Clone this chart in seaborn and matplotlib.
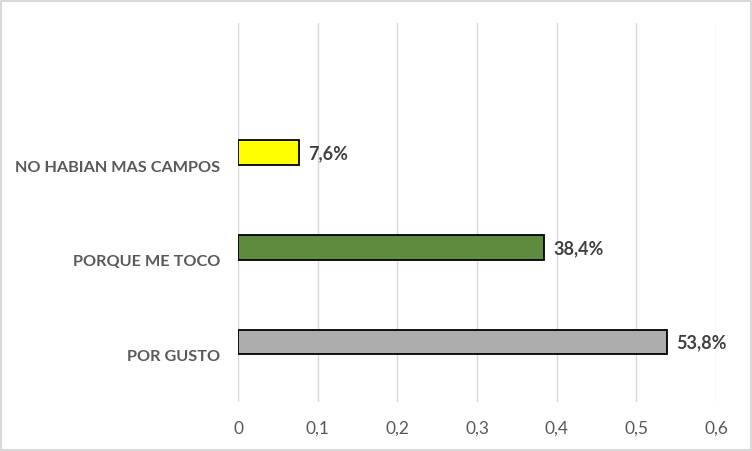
import matplotlib
matplotlib.use("Agg")
import matplotlib.pyplot as plt
import seaborn as sns
from matplotlib.patches import Rectangle
from matplotlib.ticker import FuncFormatter, MultipleLocator

CATEGORIES = ["NO HABIAN MAS CAMPOS", "PORQUE ME TOCO", "POR GUSTO"]
VALUES = [0.076, 0.384, 0.538]
BAR_COLORS = ["#FFFF00", "#5E8B3E", "#ADADAD"]
VALUE_LABELS = ["7,6%", "38,4%", "53,8%"]

LABEL_GRAY = "#595959"
VALUE_GRAY = "#404040"
GRID_GRAY = "#D9D9D9"


def comma_tick(v, pos):
    if abs(v) < 1e-9:
        return "0"
    return f"{v:.1f}".replace(".", ",")


sns.set_theme(style="white")
plt.rcParams["font.family"] = ["Lato", "DejaVu Sans"]

fig = plt.figure(figsize=(7.52, 4.52), dpi=100)
ax = fig.add_axes([238 / 752, 49 / 452, 478 / 752, 379 / 452])

sns.barplot(
    x=VALUES,
    y=CATEGORIES,
    hue=CATEGORIES,
    palette=BAR_COLORS,
    saturation=1,
    orient="h",
    width=0.26,
    edgecolor="black",
    linewidth=1.3,
    legend=False,
    ax=ax,
)

ax.set_xlim(0, 0.6)
ax.set_ylim(2.633, -1.367)
ax.xaxis.set_major_locator(MultipleLocator(0.1))
ax.xaxis.set_major_formatter(FuncFormatter(comma_tick))
ax.grid(axis="x", color=GRID_GRAY, linewidth=1.0)
ax.grid(axis="y", visible=False)
ax.set_axisbelow(True)

ax.set_yticks([i + 0.132 for i in range(len(CATEGORIES))])
ax.set_yticklabels(CATEGORIES, fontweight="bold", color=LABEL_GRAY, fontsize=11.7)
ax.tick_params(axis="y", length=0, pad=13)
ax.tick_params(axis="x", length=0, pad=13, labelsize=12.5, labelcolor=LABEL_GRAY)
ax.set_xlabel("")
ax.set_ylabel("")

for spine in ax.spines.values():
    spine.set_visible(False)

for i, (v, lab) in enumerate(zip(VALUES, VALUE_LABELS)):
    ax.annotate(lab, (v, i), xytext=(7, 0), textcoords="offset points",
                va="center", ha="left", fontsize=13, fontweight="bold",
                color=VALUE_GRAY)

fig.patches.append(Rectangle((1 / 752, 1 / 452), 750 / 752, 449 / 452,
                             transform=fig.transFigure, fill=False,
                             edgecolor=GRID_GRAY, linewidth=1.5))

fig.savefig("out.png", dpi=100)
plt.close(fig)
